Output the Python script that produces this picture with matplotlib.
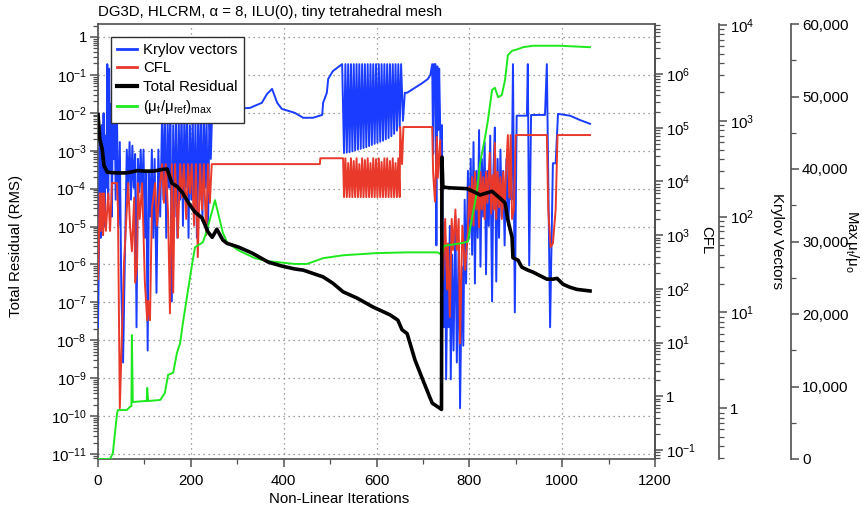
import matplotlib
matplotlib.use('Agg')
import matplotlib.pyplot as plt
from matplotlib.ticker import FuncFormatter, LogLocator, MultipleLocator, NullFormatter
from matplotlib.lines import Line2D

plt.rcParams['font.family'] = ['Liberation Sans', 'DejaVu Sans']
plt.rcParams['mathtext.fontset'] = 'custom'
plt.rcParams['mathtext.rm'] = 'Liberation Sans'
plt.rcParams['mathtext.it'] = 'Liberation Sans:italic'
plt.rcParams['mathtext.bf'] = 'Liberation Sans:bold'
plt.rcParams['mathtext.default'] = 'regular'

# ---------------- data ----------------
title = 'DG3D, HLCRM, α = 8, ILU(0), tiny tetrahedral mesh'
x_ticks = [0, 200, 400, 600, 800, 1000, 1200]

resid_iter = [0, 4, 9, 13, 20, 40, 60, 75, 85, 100, 120, 138, 149, 159, 172, 183, 195, 209, 224, 237,
              246, 256, 269, 278, 302, 332, 367, 396, 424, 442, 485, 506, 528, 558, 592, 629, 646, 655,
              666, 683, 700, 720, 737, 740, 741, 743, 758, 795, 816, 823, 849, 866, 877, 883, 892, 894,
              905, 913, 926, 937, 967, 980, 989, 1002, 1017, 1032, 1060]
resid_val = [9.0e-3, 2.0e-3, 1.1e-3, 4.0e-4, 2.7e-4, 2.6e-4, 2.6e-4, 2.8e-4, 3.0e-4, 2.9e-4, 2.9e-4,
             3.2e-4, 3.3e-4, 1.4e-4, 1.1e-4, 7.5e-5, 4.2e-5, 2.4e-5, 1.7e-5, 7.2e-6, 5.2e-6, 8.5e-6,
             4.4e-6, 3.6e-6, 2.9e-6, 2.0e-6, 1.15e-6, 9.1e-7, 7.6e-7, 7.1e-7, 4.7e-7, 3.2e-7, 1.9e-7,
             1.3e-7, 7.6e-8, 4.7e-8, 3.4e-8, 1.9e-8, 1.5e-8, 3.0e-9, 8.9e-10, 2.2e-10, 1.6e-10, 1.5e-10,
             6.8e-4, 1.1e-4, 1.05e-4, 1.0e-4, 7.6e-5, 6.8e-5, 8.5e-5, 5.6e-5, 4.2e-5, 1.5e-5, 5.2e-6,
             1.5e-6, 1.3e-6, 8.5e-7, 7.1e-7, 6.3e-7, 4.1e-7, 4.1e-7, 4.3e-7, 3.0e-7, 2.5e-7, 2.2e-7, 2.0e-7]

mu_iter = [0, 26, 32, 41, 43, 62, 69, 72, 73, 75, 101, 105, 106, 108, 134, 144, 151, 162, 170, 177,
           183, 194, 203, 209, 226, 235, 252, 269, 278, 302, 338, 366, 424, 450, 485, 528, 601, 666, 732, 741,
           745, 786, 797, 801, 816, 823, 834, 840, 849, 855, 862, 870, 877, 883, 892, 903, 916, 937, 995, 1060]
mu_val = [0, 0, 800, 6300, 6750, 6750, 7200, 7300, 17100, 7860, 8000, 8000, 9800, 8000, 8140, 9100,
          11600, 11900, 14600, 16000, 18800, 23300, 27000, 29200, 29900, 31600, 35700, 31200, 29900, 28800,
          27700, 27300, 26900, 26900, 27700, 28100, 28400, 28500, 28500, 28100, 29400, 29800, 30000, 31600,
          36700, 40800, 44400, 46700, 50900, 51200, 49900, 50200, 52300, 55700, 56300, 56500, 56800, 57000,
          57000, 56800]

osc_iter = [530, 533, 536, 539, 542, 545, 548, 551, 554, 557, 560, 563, 566, 569, 572, 575, 578, 581,
            584, 587, 590, 593, 596, 599, 602, 605, 608, 611, 614, 617, 620, 623, 626, 629, 632, 635,
            638, 641, 644, 647, 650]

kry_iter = ([0, 2, 4, 6, 8, 10, 12, 14, 16, 18, 20, 22, 24, 26, 28, 30, 32, 34, 36, 38, 41, 44, 47, 50,
             54, 58, 62, 65, 68, 71, 74, 77, 80, 83, 86, 89, 92, 95, 98, 101, 104, 107, 110, 113, 116,
             119, 122, 126, 130, 134, 138, 141, 144, 147, 150, 153, 156, 159, 162, 165, 168, 171, 174,
             177, 180, 183, 186, 189, 192, 195, 198, 201, 204, 207, 210, 213, 216, 219, 222, 225, 228,
             231, 234, 237, 240, 243, 246,
             280, 327, 353, 364, 375, 386, 396, 424, 442, 463, 483, 485, 493, 496, 506, 526]
            + osc_iter +
            [653, 657, 661, 666, 679, 700, 711, 716, 720, 722, 724, 727, 729, 731, 733, 735, 737, 739,
             741, 743, 745, 748, 750, 753, 755, 758, 760, 763, 766, 770, 773, 777, 780, 784, 787, 790,
             793, 797, 800, 803, 806, 809, 812, 815, 818, 821, 824, 827, 830, 833, 836, 839, 842, 845,
             849, 852, 855, 858, 861, 864, 867, 870, 873, 876, 880, 884, 888, 891, 894, 898, 902, 924,
             926, 929, 933, 963, 967, 974, 980, 986, 991, 1017, 1038, 1060])
kry_val = ([7, 40, 600, 60, 900, 150, 1200, 80, 700, 200, 3900, 150, 3500, 300, 1500, 100, 1500, 400,
            1800, 150, 1000, 80, 600, 20, 3, 40, 500, 200, 600, 150, 550, 200, 450, 7, 400, 180, 500,
            150, 500, 60, 300, 4, 300, 100, 500, 60, 400, 16, 500, 100, 1100, 150, 1400, 60, 1000, 200,
            1500, 13, 900, 100, 1200, 60, 1000, 150, 1500, 80, 1100, 200, 1300, 60, 900, 150, 1200,
            100, 1000, 60, 1400, 150, 1100, 90, 1300, 200, 1000, 70, 1200, 400, 1330,
            1330, 1360, 1540, 1900, 2150, 1540, 1330, 1210, 1075, 1075, 1150, 1540, 1960, 2740, 3300, 3900]
           + [460, 3900, 465, 3900, 470, 3900, 480, 3900, 490, 3900, 500, 3900, 510, 3900, 520, 3900,
              530, 3900, 545, 3900, 560, 3900, 575, 3900, 590, 3900, 605, 3900, 620, 3900, 640, 3900,
              660, 3900, 690, 3900, 730, 3900, 790, 3900, 850] +
           [3900, 1000, 1960, 1960, 2150, 2500, 2740, 3000, 3900, 450, 3900, 3900, 50, 3700, 800, 3500,
            1000, 200, 900, 30, 7, 60, 2, 30, 7, 80, 2, 40, 4, 100, 3, 50, 1, 30, 4.5, 150, 20, 300,
            60, 400, 40, 600, 20, 300, 60, 800, 30, 400, 100, 600, 25, 300, 80, 700, 13, 300, 850, 21,
            400, 60, 500, 100, 300, 50, 400, 80, 300, 150, 3900, 10, 1130, 1130, 3900, 31, 1150, 1150,
            3900, 7, 360, 360, 1180, 1130, 1020, 930])

cfl_iter = ([0, 4, 6, 9, 11, 13, 17, 22, 26, 30, 41, 43, 47, 56, 65, 69, 73, 78, 80, 84, 86, 90, 95,
             101, 106, 108, 112, 116, 123, 127, 134, 138, 142, 146, 151, 155, 159, 162, 166, 170, 172,
             177, 181, 185, 190, 194, 198, 202, 207, 211, 215, 220, 224, 228, 233, 237, 241, 245,
             478, 479, 528]
            + osc_iter +
            [651, 655, 658, 720, 722, 726, 730, 732, 737, 740, 743, 748, 752, 754, 758, 762, 765, 770,
             773, 777, 780, 785, 791, 797, 800, 803, 806, 809, 812, 815, 818, 821, 824, 827, 830, 833,
             836, 839, 844, 847, 850, 853, 855, 858, 861, 864, 867, 870, 873, 876, 879, 883, 886, 889,
             892, 896, 900, 967, 970, 975, 980, 986, 990, 1060])
cfl_val = ([150, 6000, 1200, 6000, 1000, 6000, 1200, 6000, 1200, 9300, 9300, 3000, 0.6, 300, 9300,
            1500, 500, 5000, 130, 260, 9300, 2000, 9300, 130, 26, 60, 26, 3000, 9300, 1500, 9300,
            21000, 4000, 21000, 2500, 35, 21000, 85, 21000, 3000, 890, 21000, 5000, 21000, 2000,
            21000, 6000, 21000, 1500, 21000, 390, 21000, 3000, 21000, 1000, 21000, 4000, 21000,
            21000, 27000, 27000]
           + [5100, 27000, 5100, 22000, 5100, 27000, 5100, 24000, 5100, 27000, 5100, 21000, 5100,
              27000, 5100, 25000, 5100, 27000, 5100, 22000, 5100, 27000, 5100, 26000, 5100, 27000,
              5100, 23000, 5100, 27000, 5100, 27000, 5100, 24000, 5100, 27000, 5100, 22000, 5100,
              27000, 5100] +
           [103000, 21000, 103000, 103000, 14500, 4200, 68000, 11600, 59000, 3000, 145, 2000, 97, 700,
            30, 2000, 530, 3000, 530, 2000, 9.6, 1500, 225, 1230, 8000, 2000, 12000, 1500, 15000, 3000,
            10000, 1400, 15000, 3000, 12000, 2000, 15000, 4000, 34000, 2500, 13000, 3000, 52000, 2000,
            15000, 3300, 12000, 2000, 15000, 3000, 14000, 73000, 5000, 73000, 2000, 3000, 73000, 73000,
            3000, 600, 700, 3000, 73000, 73000])

# ---------------- styling ----------------
c_blue = '#1a3cff'
c_red = '#e8392b'
c_green = '#1ee81e'
c_black = '#000000'
spine_c = '#505050'
fs = 10.8


def log_fmt(v, pos):
    import math
    if v <= 0:
        return ''
    e = int(round(math.log10(v)))
    if abs(math.log10(v) - e) > 1e-6:
        return ''
    if e == 0:
        return '1'
    return r'$10^{%d}$' % e


fig = plt.figure(figsize=(8.61, 5.08), dpi=100)
ax = fig.add_axes([98 / 861, 1 - 459 / 508, 557 / 861, 435 / 508])
ax_kry = ax.twinx()
ax_cfl = ax.twinx()
ax_mu = ax.twinx()
ax_top = ax.twinx()

for i, a in enumerate([ax, ax_kry, ax_cfl, ax_mu, ax_top]):
    a.set_zorder(i)
    a.patch.set_visible(False)

ax.set_xlim(0, 1200)
ax.set_yscale('log')
ax.set_ylim(7.4e-12, 2.2)
ax_top.set_yscale('log')
ax_top.set_ylim(7.4e-12, 2.2)
ax_top.axis('off')

ax_cfl.set_yscale('log')
ax_cfl.set_ylim(10 ** -1.168, 10 ** 6.931)
ax_kry.set_yscale('log')
ax_kry.set_ylim(10 ** -0.53, 10 ** 4.01)
ax_mu.set_ylim(0, 60000)

ax_kry.spines['right'].set_position(('axes', (719 - 98) / 557))
ax_mu.spines['right'].set_position(('axes', (791 - 98) / 557))
for a in [ax_kry, ax_mu, ax_cfl]:
    for s in ['left', 'top', 'bottom']:
        a.spines[s].set_visible(False)
for a in [ax, ax_kry, ax_cfl, ax_mu]:
    for s in a.spines.values():
        s.set_color(spine_c)
        s.set_linewidth(1.2)

# plots
ln_k, = ax_kry.plot(kry_iter, kry_val, color=c_blue, lw=1.4)
ln_c, = ax_cfl.plot(cfl_iter, cfl_val, color=c_red, lw=1.4)
ln_m, = ax_mu.plot(mu_iter, mu_val, color=c_green, lw=1.4)
ln_r, = ax_top.plot(resid_iter, resid_val, color=c_black, lw=2.6)

# ticks
ax.xaxis.set_major_locator(MultipleLocator(200))
ax.xaxis.set_minor_locator(MultipleLocator(100))
ax.set_xticks(x_ticks)
for a in [ax, ax_cfl, ax_kry]:
    a.yaxis.set_major_locator(LogLocator(base=10, numticks=30))
    a.yaxis.set_minor_locator(LogLocator(base=10, subs=range(2, 10), numticks=30))
    a.yaxis.set_major_formatter(FuncFormatter(log_fmt))
    a.yaxis.set_minor_formatter(NullFormatter())
ax_mu.yaxis.set_major_locator(MultipleLocator(10000))
ax_mu.yaxis.set_minor_locator(MultipleLocator(5000))
ax_mu.yaxis.set_major_formatter(FuncFormatter(lambda v, p: '{:,.0f}'.format(v)))

for a in [ax, ax_cfl, ax_kry, ax_mu]:
    a.tick_params(which='major', length=6, width=1.1, color=spine_c, labelsize=fs, pad=2)
    a.tick_params(which='minor', length=3.5, width=0.9, color=spine_c)
ax.tick_params(axis='x', pad=5)

ax.grid(True, which='major', linestyle=(0, (1, 3)), color='#808080', linewidth=0.9)

# labels
fig.text(98 / 861, 1 - 12 / 508, title, ha='left', va='center', fontsize=fs)
fig.text(339 / 861, 1 - 499 / 508, 'Non-Linear Iterations', ha='center', va='center', fontsize=fs)
fig.text(16 / 861, 1 - 246 / 508, 'Total Residual (RMS)', ha='center', va='center', rotation=90, fontsize=fs)
fig.text(706 / 861, 1 - 240 / 508, 'CFL', ha='center', va='center', rotation=270, fontsize=fs)
fig.text(777 / 861, 1 - 241 / 508, 'Krylov Vectors', ha='center', va='center', rotation=270, fontsize=fs)
fig.text(852 / 861, 1 - 241 / 508, r'Max$\,μ_t/μ_o$', ha='center', va='center', rotation=270, fontsize=fs)

handles = [Line2D([], [], color=c_blue, lw=2), Line2D([], [], color=c_red, lw=2),
           Line2D([], [], color=c_black, lw=3), Line2D([], [], color=c_green, lw=2)]
labels = ['Krylov vectors', 'CFL', 'Total Residual', r'$(μ_t/μ_{ref})_{max}$']
leg = ax_top.legend(handles, labels, loc='upper left', bbox_to_anchor=(111 / 861, 1 - 37 / 508),
                    bbox_transform=fig.transFigure, borderaxespad=0, fancybox=False, framealpha=1,
                    edgecolor='#303030', fontsize=fs, handlelength=1.3, handletextpad=0.45,
                    labelspacing=0.3, borderpad=0.4)
leg.get_frame().set_linewidth(1.0)

fig.savefig('out.png', dpi=100)
